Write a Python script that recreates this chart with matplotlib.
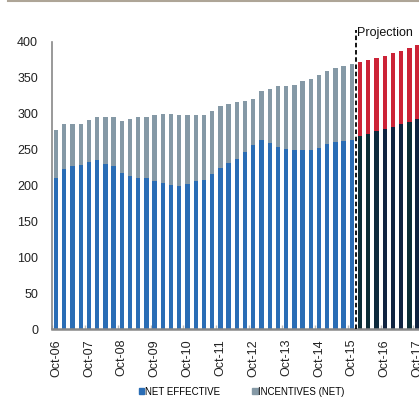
import matplotlib
matplotlib.use("Agg")
import matplotlib.pyplot as plt
from matplotlib.patches import Patch
from matplotlib.lines import Line2D
import numpy as np

plt.rcParams['font.family'] = ['Liberation Sans', 'DejaVu Sans']

# Quarterly data, Oct-06 .. Oct-15 (historical)
net_effective = [211, 223, 227, 229, 233, 236, 230, 227, 217, 213, 211, 210, 206,
                 203, 201, 199, 202, 206, 208, 216, 224, 231, 237, 247, 256, 264,
                 259, 254, 251, 249, 249, 250, 252, 258, 260, 262, 264]
incentives = [67, 63, 59, 57, 58, 59, 65, 68, 73, 80, 84, 85, 92,
              96, 98, 99, 96, 92, 90, 88, 87, 83, 79, 71, 65, 67,
              75, 84, 87, 91, 96, 99, 102, 101, 103, 104, 105]
# Projection, Jan-16 .. Oct-17
proj_net = [269, 272, 276, 279, 281, 285, 288, 292]
proj_incentives = [103, 103, 102, 102, 103, 102, 103, 103]

tick_labels = ["Oct-06", "Oct-07", "Oct-08", "Oct-09", "Oct-10", "Oct-11",
               "Oct-12", "Oct-13", "Oct-14", "Oct-15", "Oct-16", "Oct-17"]
legend_labels = ["NET EFFECTIVE", "INCENTIVES (NET)"]

c_net = '#2a6db5'
c_inc = '#8599a6'
c_proj_net = ['#0b2e37', '#0b2e37', '#0d2a3c', '#0f2340', '#0f2340', '#0f2340', '#0b2e37', '#0f2340']
c_proj_inc = '#cc2337'

fig = plt.figure(figsize=(4.19, 3.99), dpi=100)
ax = fig.add_axes([0.124, 0.175, 0.876, 0.72])

n_hist = len(net_effective)
x_hist = np.arange(n_hist)
x_proj = np.arange(n_hist, n_hist + len(proj_net))
w = 0.53

ax.bar(x_hist, net_effective, width=w, color=c_net, zorder=2)
ax.bar(x_hist, incentives, width=w, bottom=net_effective, color=c_inc, zorder=2)
ax.bar(x_proj, proj_net, width=w, color=c_proj_net, zorder=2)
ax.bar(x_proj, proj_incentives, width=w, bottom=proj_net, color=c_proj_inc, zorder=2)

ax.set_ylim(0, 400)
ax.set_xlim(-0.43, 44.17)
ax.set_yticks(np.arange(0, 401, 50))
ax.tick_params(axis='y', length=0, labelsize=9, pad=10, colors='#222222')

ax.set_xticks(np.arange(0, 45, 4))
ax.set_xticklabels(tick_labels, rotation=90, fontsize=9, color='#222222')
ax.tick_params(axis='x', length=0, pad=7)
ax.set_xticks(np.arange(-0.5, 45, 4), minor=True)
ax.tick_params(axis='x', which='minor', direction='in', length=3, color='#bbbbbb', width=1)

for s in ['top', 'right']:
    ax.spines[s].set_visible(False)
ax.spines['left'].set_color('#888888')
ax.spines['left'].set_linewidth(1.2)
ax.spines['bottom'].set_color('#888888')
ax.spines['bottom'].set_linewidth(1.8)

# projection divider
xd = n_hist - 0.5
ax.plot([xd, xd], [0, 417], color='black', linestyle=(0, (2.5, 1.5)), linewidth=1.3,
        clip_on=False, zorder=3)
ax.text(xd + 0.15, 412, "Projection", fontsize=9, ha='left', va='center', color='#111111',
        clip_on=False)

# top rule
fig.add_artist(Line2D([0.02, 1.0], [0.998, 0.998], color='#aea597', linewidth=1.5))

handles = [Patch(color=c_net), Patch(color=c_inc)]
fig.legend(handles, legend_labels, loc='center', bbox_to_anchor=(0.577, 0.018), ncol=2,
           frameon=False, fontsize=7, handlelength=0.6, handleheight=0.6,
           handletextpad=0.1, columnspacing=3.2)

fig.savefig("out.png", dpi=100)
